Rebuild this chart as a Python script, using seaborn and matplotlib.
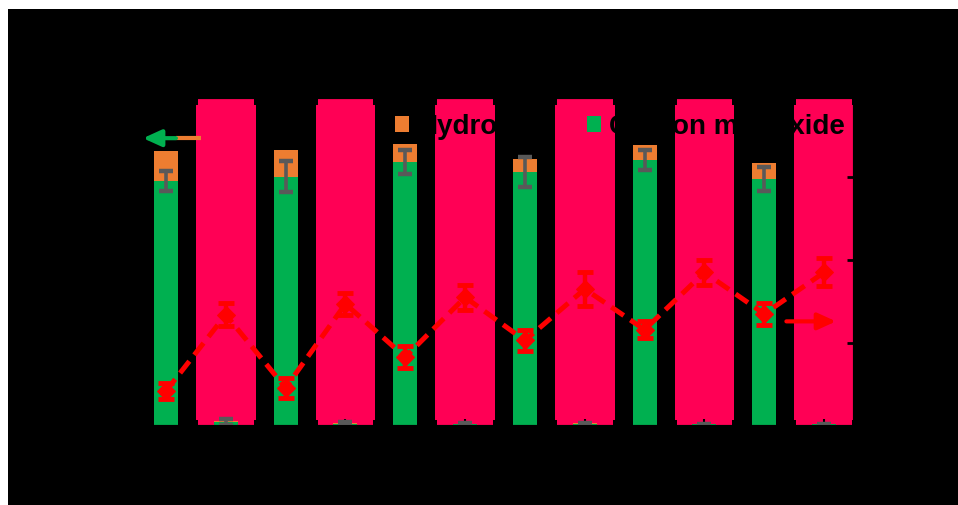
import numpy as np
import pandas as pd
import matplotlib
matplotlib.use("Agg")
import matplotlib.pyplot as plt
import seaborn as sns
from matplotlib.patches import Rectangle, Patch

# ---- data ----
cycles = ["L1", "D1", "L2", "D2", "L3", "D3", "L4", "D4", "L5", "D5", "L6", "D6"]
co = [29.9, 0.5, 30.4, 0.3, 32.2, 0.2, 31.0, 0.2, 32.4, 0.2, 30.1, 0.2]
h2 = [3.6, 0.15, 3.3, 0.1, 2.2, 0.1, 1.6, 0.2, 1.9, 0.1, 2.0, 0.1]
co_err = [1.2, 0.4, 1.9, 0.2, 1.5, 0.2, 1.8, 0.2, 1.2, 0.1, 1.5, 0.1]
ratio = [0.42, 1.34, 0.46, 1.47, 0.83, 1.55, 1.03, 1.65, 1.16, 1.85, 1.35, 1.85]
ratio_err = [0.10, 0.14, 0.12, 0.13, 0.13, 0.15, 0.13, 0.20, 0.10, 0.15, 0.13, 0.17]
dark_idx = [1, 3, 5, 7, 9, 11]
legend_labels = ["Hydrogen", "Carbon monoxide"]

green = "#00B050"
orange = "#ED7D31"
pink = "#FF0055"
grey = "#595959"

sns.set_style("ticks")
plt.rcParams["font.family"] = ["Liberation Sans", "DejaVu Sans"]

fig = plt.figure(figsize=(9.58, 5.05), dpi=100, facecolor="white")
fig.patches.append(Rectangle((8 / 958, 0), 1, 1 - 9 / 505, transform=fig.transFigure,
                             facecolor="black", edgecolor="none", zorder=-5))
ax = fig.add_axes([136 / 958, 79 / 505, 718 / 958, 328 / 505])
ax.set_facecolor("none")

df = pd.DataFrame({"cycle": cycles, "CO": co, "H2": h2})
df["total"] = df["CO"] + df["H2"]

for i in dark_idx:
    ax.axvspan(i - 0.5 + 0.035, i + 0.5 - 0.035, ymin=0, ymax=1, color=pink, lw=0, zorder=0)
    ax.axvspan(i - 0.5, i + 0.5, ymin=0.018, ymax=0.979, color=pink, lw=0, zorder=0)

sns.barplot(data=df, x="cycle", y="total", color=orange, width=0.4, saturation=1,
            errorbar=None, ax=ax, zorder=2, edgecolor="none", linewidth=0)
sns.barplot(data=df, x="cycle", y="CO", color=green, width=0.4, saturation=1,
            errorbar=None, ax=ax, zorder=2, edgecolor="none", linewidth=0)
ax.errorbar(np.arange(len(cycles)), co, yerr=co_err, fmt="none", ecolor=grey,
            elinewidth=2.6, capsize=5, capthick=3.2, zorder=3)

ax.set_xlim(-0.5, 11.5)
ax.set_ylim(0, 40)
ax.set_xlabel("")
ax.set_ylabel("")
ax.tick_params(colors="black", direction="in", width=1.5, length=5, labelsize=14)
for s in ax.spines.values():
    s.set_color("black")
    s.set_linewidth(1.5)

# left-axis arrow
ya = 35.1
ax.plot([0.167, 0.583], [ya, ya], color=orange, lw=3, solid_capstyle="butt", zorder=4)
ax.annotate("", xy=(-0.383, ya), xytext=(0.167, ya),
            arrowprops=dict(arrowstyle="-|>,head_length=0.55,head_width=0.25",
                            color=green, lw=3, shrinkA=0, shrinkB=0, mutation_scale=20),
            zorder=4)

# right axis
ax2 = ax.twinx()
ax2.set_facecolor("none")
sns.lineplot(x=np.arange(len(cycles)), y=ratio, ax=ax2, color="red", lw=3.6,
             marker="D", markersize=9, markeredgecolor="red", zorder=5)
ax2.lines[-1].set_dashes((3, 1.6))
ax2.errorbar(np.arange(len(cycles)), ratio, yerr=ratio_err, fmt="none", ecolor="red",
             elinewidth=3.2, capsize=5.5, capthick=3.5, zorder=5)
ax2.set_ylim(0, 3.95)
ax2.set_yticks([0, 1, 2, 3])
ax2.tick_params(colors="black", direction="in", width=2, length=5, labelsize=14)
ax2.annotate("", xy=(11.2, 1.26), xytext=(10.37, 1.26),
             arrowprops=dict(arrowstyle="-|>,head_length=0.55,head_width=0.25",
                             color="red", lw=3, shrinkA=0, shrinkB=0, mutation_scale=20))
for s in ax2.spines.values():
    s.set_color("black")
    s.set_linewidth(1.5)

handles = [Patch(facecolor=orange, edgecolor="none", label=legend_labels[0]),
           Patch(facecolor=green, edgecolor="none", label=legend_labels[1])]
leg = ax2.legend(handles=handles, ncol=2, frameon=False, loc="center left",
                 bbox_to_anchor=((395 - 136) / 718, 0.912), prop={"weight": "bold", "size": 20},
                 handlelength=0.5, handleheight=0.55, handletextpad=0.3, columnspacing=1.45,
                 borderaxespad=0, borderpad=0)
for t in leg.get_texts():
    t.set_color("black")

fig.savefig("out.png", dpi=100, facecolor="white")
